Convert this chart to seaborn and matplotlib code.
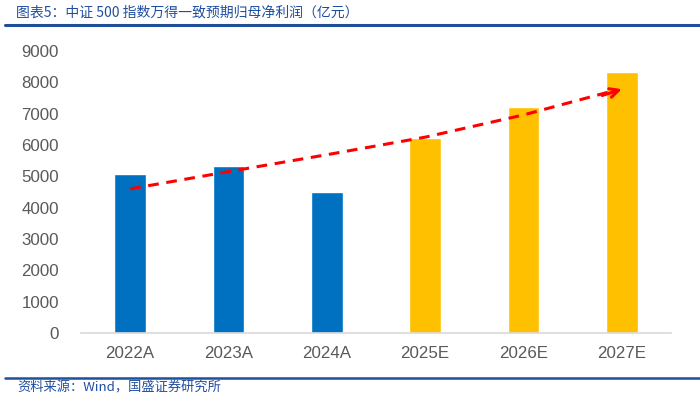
import matplotlib
matplotlib.use("Agg")
import matplotlib.pyplot as plt
import seaborn as sns
import pandas as pd

# 数据
years = ['2022A', '2023A', '2024A', '2025E', '2026E', '2027E']
profit = [5080, 5340, 4510, 6230, 7220, 8330]
kind = ['A', 'A', 'A', 'E', 'E', 'E']
trend = [4600, 5150, 5690, 6250, 6960, 7780]  # 趋势虚线

title = '图表5：中证 500 指数万得一致预期归母净利润（亿元）'
source = '资料来源：Wind，国盛证券研究所'

df = pd.DataFrame({'year': years, 'profit': profit, 'kind': kind})
palette = {'A': '#0070C0', 'E': '#FFC000'}

sns.set_theme(style='white')
plt.rcParams['font.family'] = ['Liberation Sans', 'DejaVu Sans']

fig = plt.figure(figsize=(7, 3.98), dpi=100)
ax = fig.add_axes([81 / 700, 1 - 333 / 398, 590 / 700, 282 / 398])

sns.barplot(data=df, x='year', y='profit', hue='kind', palette=palette,
            dodge=False, width=0.32, legend=False, ax=ax, saturation=1)

# 趋势线 + 箭头
xs = list(range(len(trend)))
ax.plot(xs[:-1] + [xs[-1] - 0.05], trend[:-1] + [trend[-1] - 20], color='#FF0000',
        lw=2.2, ls=(0, (3.5, 2.5)))
ax.annotate('', xy=(xs[-1], trend[-1]), xytext=(xs[-1] - 0.2, trend[-1] - 200),
            arrowprops=dict(arrowstyle='->', color='#FF0000', lw=2.2,
                            mutation_scale=16, shrinkA=0, shrinkB=0))

ax.set_ylim(0, 9000)
ax.set_xlim(-0.5, 5.5)
ax.set_yticks(range(0, 9001, 1000))
ax.set_xlabel('')
ax.set_ylabel('')
ax.tick_params(axis='both', length=0, labelsize=12.2, labelcolor='#595959')
ax.tick_params(axis='x', pad=9)
ax.tick_params(axis='y', pad=16)
for s in ['top', 'right', 'left']:
    ax.spines[s].set_visible(False)
ax.spines['bottom'].set_color('#D9D9D9')
ax.spines['bottom'].set_linewidth(1.2)

# 标题和来源
cjk = ['Noto Sans CJK SC', 'DejaVu Sans']
fig.text(16 / 700, 1 - 13 / 398, title, family=cjk, style='italic',
         fontsize=10, color='#1F4EA0', va='center', ha='left')
fig.add_artist(plt.Line2D([5 / 700, 1], [1 - 25 / 398, 1 - 25 / 398],
                          color='#1F4E9A', lw=2.2, transform=fig.transFigure))
fig.add_artist(plt.Line2D([5 / 700, 1], [1 - 378 / 398, 1 - 378 / 398],
                          color='#1F4E9A', lw=1.8, transform=fig.transFigure))
fig.text(17 / 700, 1 - 388 / 398, source, family=cjk, style='italic',
         fontsize=9.5, color='#1F4EA0', va='center', ha='left')

fig.savefig('out.png', dpi=100)
